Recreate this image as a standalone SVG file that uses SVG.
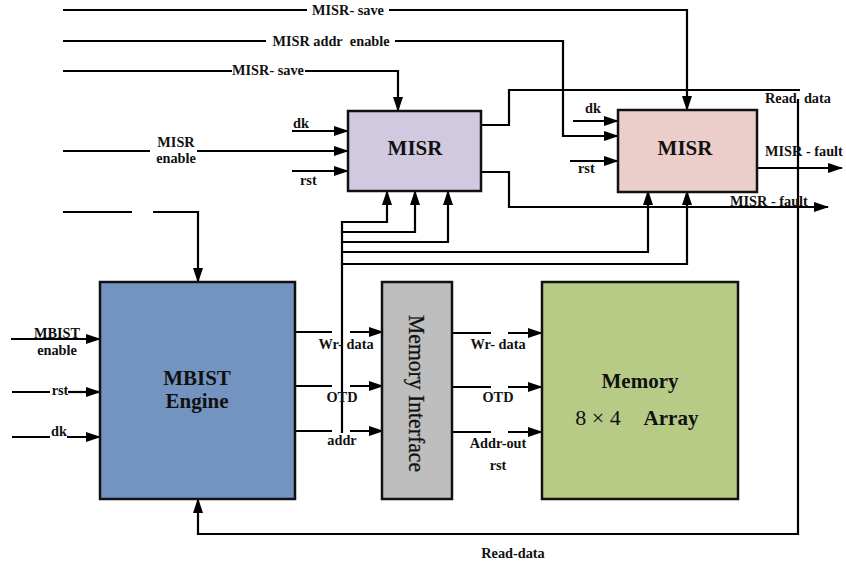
<svg xmlns="http://www.w3.org/2000/svg" width="846" height="565" viewBox="0 0 846 565">
<defs>
<marker id="arr" markerUnits="userSpaceOnUse" markerWidth="15" markerHeight="10" refX="14" refY="5" orient="auto">
<path d="M0,0 L15,5 L0,10 z" fill="#000"/>
</marker>
<style>
.ln{fill:none;stroke:#000;stroke-width:2.2}
.ar{marker-end:url(#arr)}
.box{stroke:#111;stroke-width:2.5}
.lb{font-family:"Liberation Serif","Times New Roman",serif;font-weight:bold;font-size:14.3px;fill:#111}
.big{font-family:"Liberation Serif","Times New Roman",serif;font-weight:bold;font-size:21px;fill:#111}
</style>
</defs>
<rect width="846" height="565" fill="#fff"/>
<g id="connectors">
<path class="ln" d="M63,10 H307"/>
<path class="ln ar" d="M389,10 H687 V110"/>
<path class="ln" d="M63,41 H266"/>
<path class="ln ar" d="M395,41 H563 V136 H618"/>
<path class="ln" d="M63,71 H232"/>
<path class="ln ar" d="M305,71 H398 V111"/>
<path class="ln ar" d="M292,131 H348"/>
<path class="ln" d="M63,151 H150"/>
<path class="ln ar" d="M197,151 H348"/>
<path class="ln ar" d="M292,171 H348"/>
<path class="ln" d="M481,125 H509 V90 H800"/>
<path class="ln ar" d="M481,172 H509 V207 H828"/>
<path class="ln ar" d="M798,99 V534 H198 V499"/>
<path class="ln ar" d="M573,121 H618"/>
<path class="ln ar" d="M570,161 H618"/>
<path class="ln ar" d="M757,168 H842"/>
<path class="ln ar" d="M342,433 V222 H387 V191"/>
<path class="ln ar" d="M342,232 H415 V191"/>
<path class="ln ar" d="M342,242 H448 V191"/>
<path class="ln ar" d="M342,252 H648 V191"/>
<path class="ln ar" d="M342,264 H687 V191"/>
<path class="ln" d="M63,212 H132"/>
<path class="ln ar" d="M153,212 H198 V282"/>
<path class="ln ar" d="M11,339 H100"/>
<path class="ln" d="M12,392 H50 M12,437 H50"/>
<path class="ln ar" d="M68,392 H100"/>
<path class="ln ar" d="M67,437 H100"/>
<path class="ln" d="M295,332 H332 M295,386 H332 M295,431 H332"/>
<path class="ln ar" d="M350,332 H383"/>
<path class="ln ar" d="M350,386 H383"/>
<path class="ln ar" d="M350,431 H383"/>
<path class="ln" d="M452,333 H491 M452,387 H491 M452,432 H491"/>
<path class="ln ar" d="M508,333 H542"/>
<path class="ln ar" d="M508,387 H542"/>
<path class="ln ar" d="M508,432 H542"/>
</g>
<g id="labels">
<text class="lb" x="348" y="15" text-anchor="middle">MISR- save</text>
<text class="lb" x="331" y="46" text-anchor="middle">MISR addr&#160; enable</text>
<text class="lb" x="268" y="75" text-anchor="middle">MISR- save</text>
<text class="lb" x="293" y="128">dk</text>
<text class="lb" x="176" y="147" text-anchor="middle">MISR</text>
<text class="lb" x="176" y="163" text-anchor="middle">enable</text>
<text class="lb" x="300" y="185">rst</text>
<text class="lb" x="765" y="103">Read&#160; data</text>
<text class="lb" x="585" y="113">dk</text>
<text class="lb" x="578" y="173">rst</text>
<text class="lb" x="765" y="156">MISR - fault</text>
<text class="lb" x="730" y="206">MISR - fault</text>
<text class="lb" x="57" y="338" text-anchor="middle">MBIST</text>
<text class="lb" x="57" y="355" text-anchor="middle">enable</text>
<text class="lb" x="60" y="395" text-anchor="middle">rst</text>
<text class="lb" x="59" y="436" text-anchor="middle">dk</text>
<text class="lb" x="346" y="349" text-anchor="middle">Wr- data</text>
<text class="lb" x="342" y="402" text-anchor="middle">OTD</text>
<text class="lb" x="342" y="445" text-anchor="middle">addr</text>
<text class="lb" x="498" y="349" text-anchor="middle">Wr- data</text>
<text class="lb" x="498" y="402" text-anchor="middle">OTD</text>
<text class="lb" x="498" y="448" text-anchor="middle">Addr-out</text>
<text class="lb" x="498" y="470" text-anchor="middle">rst</text>
<text class="lb" x="513" y="558" text-anchor="middle">Read-data</text>
</g>
<g id="misr1">
<rect class="box" x="348" y="111" width="133" height="80" fill="#d1c9e0"/>
<text class="big" x="415" y="155" text-anchor="middle">MISR</text>
</g>
<g id="misr2">
<rect class="box" x="618" y="110" width="139" height="82" fill="#ebcdca"/>
<text class="big" x="685" y="155" text-anchor="middle">MISR</text>
</g>
<g id="mbist">
<rect class="box" x="100" y="282" width="195" height="217" fill="#7394c0"/>
<text class="big" x="197" y="385" text-anchor="middle">MBIST</text>
<text class="big" x="197" y="408" text-anchor="middle">Engine</text>
</g>
<g id="meminterface">
<rect class="box" x="382" y="282" width="70" height="217" fill="#bebebe"/>
<text transform="translate(409,393.5) rotate(90)" text-anchor="middle" font-family="'Liberation Serif','Times New Roman',serif" font-size="24" fill="#111" stroke="#111" stroke-width="0.3" textLength="157" lengthAdjust="spacingAndGlyphs">Memory Interface</text>
</g>
<g id="memory">
<rect class="box" x="542" y="282" width="196" height="217" fill="#b7cb87"/>
<text class="big" x="640" y="388" text-anchor="middle">Memory</text>
<text x="598" y="425" text-anchor="middle" font-family="'Liberation Serif','Times New Roman',serif" font-size="22" fill="#111">8 × 4</text>
<text class="big" x="671" y="425" text-anchor="middle">Array</text>
</g>
</svg>
